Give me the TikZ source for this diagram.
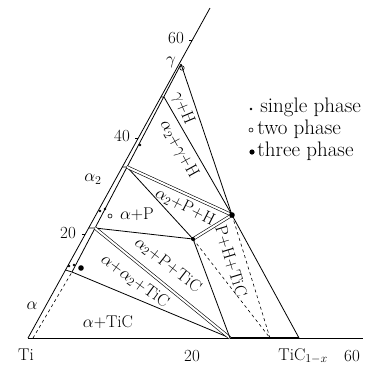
\documentclass[tikz,border=0pt]{standalone}
\usepackage{fontspec}
\usepackage{amsmath}
\usepackage{tikz}

\tikzset{
  tie/.style={double, double distance=2pt, line width=0.6pt},
  legendtext/.style={anchor=base west, font=\fontsize{21}{24}\selectfont},
}

\begin{document}
\begin{tikzpicture}[x=1pt, y=-1pt, line width=0.8pt, every node/.style={font=\fontsize{17}{20}\selectfont, inner sep=0pt}]
  \useasboundingbox (0,0) rectangle (367,365);

  % Corners and phase points
  \coordinate (ti) at (28,338);
  \coordinate (axtop) at (210,8);
  \coordinate (baseend) at (363,338);
  \coordinate (gam) at (181,64);
  \coordinate (in0) at (33,338);
  \coordinate (in1) at (72,272);
  \coordinate (in2) at (95,228);
  \coordinate (in3) at (127,167);
  \coordinate (in4) at (164,97);
  \coordinate (out1) at (65.5,270);
  \coordinate (out2) at (89,228);
  \coordinate (out3) at (122,167);
  \coordinate (out4) at (161,97);
  \coordinate (ptwo) at (193,239);
  \coordinate (pthree) at (232,215);
  \coordinate (ticlo) at (230,338);
  \coordinate (tichi) at (299,338);
  \coordinate (ticmid) at (270,338);

  % Axes
  \draw (ti) -- (axtop);
  \draw (ti) -- (baseend);
  \draw[line width=2.6pt] (ticlo) -- (tichi);
  \draw (192.3,40) -- ++(-3,0);
  \draw (138.3,138) -- ++(-3,0);
  \draw (85.4,234) -- ++(-3,0);

  % Phase boundaries
  \draw[dashed, line width=0.6pt] (in0) -- (in1);
  \draw (in1) -- (gam);
  \draw (out1) -- (in1) -- (ticlo);
  \draw (out2) -- (in2) -- (ptwo);
  \draw[tie] (in2) -- (ticlo);
  \draw (out3) -- (in3) -- (ptwo);
  \draw[tie] (in3) -- (pthree);
  \draw (out4) -- (in4) -- (pthree);
  \draw (gam) -- (pthree) -- (tichi);
  \draw (ptwo) -- (ticlo);
  \draw[tie] (ptwo) -- (pthree);
  \draw[dashed, line width=0.6pt] (ptwo) -- (ticmid);
  \draw[dashed, line width=0.6pt] (pthree) -- (ticmid);

  % Alloy points
  \fill (69,266) circle (1.4pt);
  \fill (74,265) circle (1.4pt);
  \fill (100,211) circle (1.4pt);
  \fill (105,209) circle (1.4pt);
  \fill (140,145) circle (1.4pt);
  \draw[line width=0.6pt] (110,216) circle (2pt);
  \draw[line width=0.6pt] (182,68) circle (2.2pt);
  \fill (81,268) circle (2.8pt);
  \fill (pthree) circle (2.8pt);
  \fill (ptwo) circle (2pt);

  % Axis labels
  \node (l60) at (176,38) {60};
  \node (l40) at (122,136) {40};
  \node (l20) at (68,233) {20};
  \node (lagtwo) at (93,179) {$\alpha_2$};
  \node (la) at (32,306) {$\alpha$};
  \node (lg) at (171,62) {$\gamma$};
  \node[anchor=base] (lti) at (26,360) {Ti};
  \node[anchor=base] (lb20) at (192,361) {20};
  \node[anchor=base west] (ltic) at (278,360) {TiC$_{1-x}$};
  \node[anchor=base] (lb60) at (352,361) {60};

  % Phase fields
  \node[rotate=-67] (fgh) at (183,108) {$\gamma$+H};
  \node[rotate=-61] (fagh) at (179,149) {$\alpha_2$+$\gamma$+H};
  \node[rotate=-27] (fapH) at (185,207) {$\alpha_2$+P+H};
  \node (fap) at (137,214) {$\alpha$+P};
  \node[rotate=-38] (fapt) at (168,265) {$\alpha_2$+P+TiC};
  \node[rotate=-36] (faat) at (135,281) {$\alpha$+$\alpha_2$+TiC};
  \node[rotate=-73] (fpht) at (231,261) {P+H+TiC};
  \node (fat) at (108,322) {$\alpha$+TiC};

  % Legend
  \fill (251,109) circle (1.4pt);
  \node[legendtext] (ksingle) at (260,112) {single phase};
  \draw[line width=0.6pt] (251,130) circle (2pt);
  \node[legendtext] (ktwo) at (257,134) {two phase};
  \fill (252,152) circle (2.6pt);
  \node[legendtext] (kthree) at (257,156) {three phase};
\end{tikzpicture}
\end{document}
